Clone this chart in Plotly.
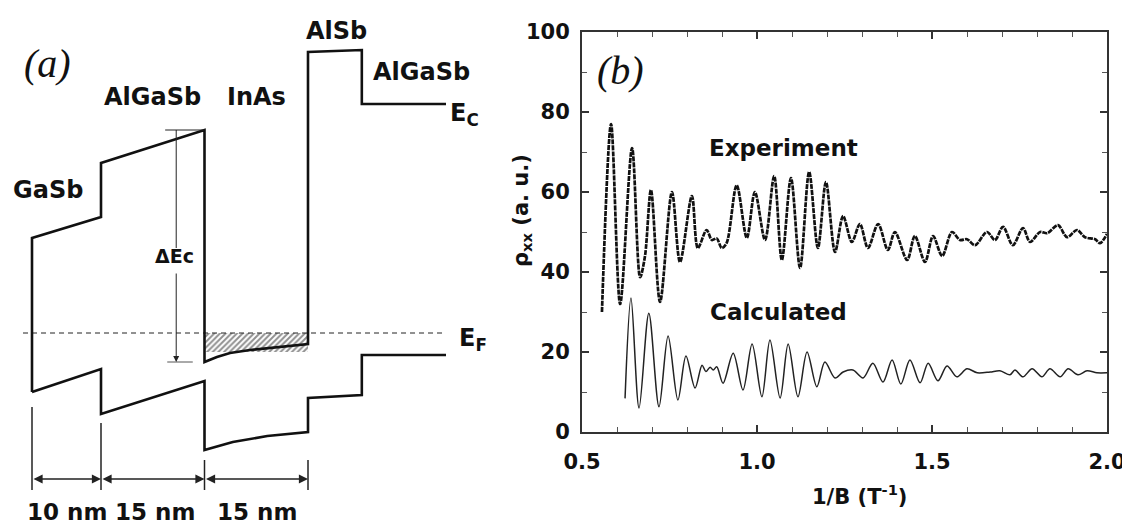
import plotly.graph_objects as go

# ---------------- Panel (b): Shubnikov-de Haas data ----------------
exp_x = [0.557, 0.583, 0.609, 0.643, 0.666, 0.680, 0.697, 0.723, 0.757, 0.780, 0.814, 0.831,
         0.856, 0.871, 0.885, 0.899, 0.913, 0.942, 0.971, 0.994, 1.023, 1.049, 1.071, 1.097,
         1.123, 1.149, 1.174, 1.197, 1.223, 1.246, 1.271, 1.294, 1.317, 1.346, 1.374, 1.394,
         1.429, 1.451, 1.480, 1.503, 1.529, 1.557, 1.580, 1.600, 1.623, 1.657, 1.680, 1.703,
         1.731, 1.760, 1.780, 1.809, 1.829, 1.860, 1.886, 1.914, 1.937, 1.966, 1.980, 2.000]
exp_y = [30, 77, 32, 71, 38.7, 44, 60.5, 32.5, 60, 42.5, 59, 46,
         50.5, 48, 48.4, 46, 47.2, 61.7, 48.5, 60, 48, 64, 43, 63.5,
         41, 65, 46, 62.5, 45, 54, 47.5, 52, 46, 52, 45.5, 50,
         43, 49, 42.5, 49, 44, 50, 48, 48.2, 46.7, 50, 48, 51.3,
         46.7, 51, 47.5, 50, 49.7, 51.7, 48.7, 50.5, 48.7, 48.2, 47.2, 49.5]

calc_x = [0.623, 0.640, 0.663, 0.691, 0.720, 0.746, 0.774, 0.797, 0.823, 0.843, 0.854, 0.866,
          0.875, 0.885, 0.903, 0.932, 0.960, 0.986, 1.014, 1.037, 1.066, 1.089, 1.117, 1.143,
          1.171, 1.194, 1.223, 1.246, 1.274, 1.303, 1.331, 1.360, 1.386, 1.411, 1.437, 1.466,
          1.489, 1.517, 1.543, 1.571, 1.600, 1.629, 1.666, 1.694, 1.723, 1.737, 1.760, 1.786,
          1.814, 1.837, 1.866, 1.889, 1.917, 1.943, 1.971, 2.000]
calc_y = [8.4, 33.5, 6, 29.7, 6.3, 24, 8, 19, 11, 16.7, 15.1, 16.2,
          15.5, 16.3, 12.2, 19.7, 10.5, 22, 8.8, 23, 8.5, 22, 8.8, 20,
          11.3, 17.5, 13.5, 15, 15.5, 13.5, 17.2, 12.5, 18, 12, 18, 12.3,
          17.2, 12.8, 16.5, 13.8, 15.8, 14.8, 15, 15.3, 14.3, 15.5, 13.8, 15.8,
          13.8, 15.8, 13.8, 15.8, 14.3, 15.3, 14.8, 14.8]

b_xticks = [0.5, 1.0, 1.5, 2.0]
b_xticktext = ["0.5", "1.0", "1.5", "2.0"]
b_yticks = [0, 20, 40, 60, 80, 100]
b_yticktext = ["0", "20", "40", "60", "80", "100"]

# ---------------- Panel (a): band diagram (position nm, energy a.u. rel. to E_F) ----------------
cb_x = [0, 0, 10, 10, 25, 25, 26.8, 28.7, 31.6, 36.4, 40, 40, 47.8, 47.8, 60]
cb_e = [-59, 95, 116, 170, 203, -29, -24, -20, -17, -14, -11, 281, 283, 229, 229]

vb_x = [0, 10, 10, 25, 25, 29.1, 34.1, 40, 40, 47.8, 47.8, 60]
vb_e = [-59, -36, -81, -48, -117, -109, -103, -99, -65, -62, -22, -22]

ef_x = [-1.3, 60]
ef_e = [0, 0]

hatch_x = [25, 40, 40, 25, 25]
hatch_e = [0, 0, -19, -19, 0]

dec_x = 20.9
dec_top_cap_x = [19.3, 25]
dec_top_e = 203
dec_bot_cap_x = [19.6, 23.3]
dec_bot_e = -29
dec_upper_seg_e = [203, 85]
dec_arrow_tail_e = 61
dec_label_e = 77

ext_x = [0, 10, 25, 40]
ext_top_e = [-74, -90, -127, -127]
ext_bot_e = -157
dim_e = -146
dim_segments = [(0, 10), (10, 25), (25, 40)]
dim_labels = ["10 nm", "15 nm", "15 nm"]
dim_label_x = [5.1, 17.8, 32.6]
dim_label_e = -179

layer_labels = ["AlSb", "AlGaSb", "AlGaSb", "InAs", "GaSb"]
layer_label_x = [44.2, 56.5, 17.4, 32.6, 2.3]
layer_label_e = [302, 261, 236, 236, 143]

# page offset of the plot div inside the browser window (default body margin)
OFF = 8
W, H = 1130, 522
PX_PER_NM = 6.9

FONT = "DejaVu Sans"
INK = "#111111"

fig = go.Figure()

# hatched electron gas
fig.add_trace(go.Scatter(x=hatch_x, y=hatch_e, xaxis="x2", yaxis="y2", mode="lines",
                         line=dict(width=0), fill="toself", fillcolor="rgba(0,0,0,0)",
                         fillpattern=dict(shape="/", fgcolor="#222", bgcolor="white",
                                          size=4, solidity=0.5),
                         hoverinfo="skip"))
# Fermi level
fig.add_trace(go.Scatter(x=ef_x, y=ef_e, xaxis="x2", yaxis="y2", mode="lines",
                         line=dict(color="#222", width=1, dash="5px,4px"), hoverinfo="skip"))
# bands
fig.add_trace(go.Scatter(x=cb_x, y=cb_e, xaxis="x2", yaxis="y2", mode="lines",
                         line=dict(color=INK, width=2.6), hoverinfo="skip"))
fig.add_trace(go.Scatter(x=vb_x, y=vb_e, xaxis="x2", yaxis="y2", mode="lines",
                         line=dict(color=INK, width=2.6), hoverinfo="skip"))
# Delta Ec marker lines
fig.add_trace(go.Scatter(x=dec_top_cap_x, y=[dec_top_e, dec_top_e], xaxis="x2", yaxis="y2",
                         mode="lines", line=dict(color="#222", width=1), hoverinfo="skip"))
fig.add_trace(go.Scatter(x=dec_bot_cap_x, y=[dec_bot_e, dec_bot_e], xaxis="x2", yaxis="y2",
                         mode="lines", line=dict(color="#555", width=1), hoverinfo="skip"))
fig.add_trace(go.Scatter(x=[dec_x, dec_x], y=dec_upper_seg_e, xaxis="x2", yaxis="y2",
                         mode="lines", line=dict(color="#222", width=1), hoverinfo="skip"))
# extension lines
for xv, te in zip(ext_x, ext_top_e):
    fig.add_trace(go.Scatter(x=[xv, xv], y=[te, ext_bot_e], xaxis="x2", yaxis="y2",
                             mode="lines", line=dict(color="#222", width=1.5), hoverinfo="skip"))

# panel (b) curves
fig.add_trace(go.Scatter(x=exp_x, y=exp_y, mode="lines",
                         line=dict(color=INK, width=2.7, shape="spline", smoothing=0.9,
                                   dash="5px,1px"), hoverinfo="skip"))
fig.add_trace(go.Scatter(x=calc_x, y=calc_y, mode="lines",
                         line=dict(color="#222", width=1.5, shape="spline", smoothing=0.9),
                         hoverinfo="skip"))

ann = []
bold = dict(family=FONT, size=24, color=INK, weight="bold")
C = dict(xanchor="center", yanchor="middle", showarrow=False)
for t, xv, ev in zip(layer_labels, layer_label_x, layer_label_e):
    ann.append(dict(text=t, x=xv, y=ev, xref="x2", yref="y2", font=bold, **C))
ann.append(dict(text="E<sub>C</sub>", x=60.3, y=219, xref="x2", yref="y2", xanchor="left",
                yanchor="middle", showarrow=False, font=bold))
ann.append(dict(text="E<sub>F</sub>", x=61.6, y=-6, xref="x2", yref="y2", xanchor="left",
                yanchor="middle", showarrow=False, font=bold))
ann.append(dict(text="(a)", x=2.2, y=270, xref="x2", yref="y2",
                font=dict(family="Liberation Serif", size=40, color=INK, style="italic"), **C))
ann.append(dict(text="ΔEc", x=20.6, y=dec_label_e, xref="x2", yref="y2",
                font=dict(family=FONT, size=19, color=INK, weight="bold"), **C))
# Delta Ec arrow
ann.append(dict(text="", x=dec_x, y=dec_bot_e, ax=dec_x, ay=dec_arrow_tail_e,
                xref="x2", yref="y2", axref="x2", ayref="y2", showarrow=True,
                arrowhead=2, arrowsize=1.2, arrowwidth=1, arrowcolor="#222"))
# dimension arrows
for (a0, a1) in dim_segments:
    ann.append(dict(text="", x=a1, y=dim_e, ax=a0, ay=dim_e,
                    xref="x2", yref="y2", axref="x2", ayref="y2", showarrow=True,
                    arrowside="end+start", arrowhead=2, startarrowhead=2,
                    arrowsize=1.3, startarrowsize=1.3, arrowwidth=1.4, arrowcolor="#222"))
for t, xv in zip(dim_labels, dim_label_x):
    ann.append(dict(text=t, x=xv, y=dim_label_e, xref="x2", yref="y2",
                    font=dict(family=FONT, size=23, color=INK, weight="bold"), **C))

# panel (b) texts
ann.append(dict(text="(b)", x=0.611, y=90.5, xref="x", yref="y",
                font=dict(family="Liberation Serif", size=40, color=INK, style="italic"), **C))
ann.append(dict(text="Experiment", x=1.077, y=71, xref="x", yref="y",
                font=dict(family=FONT, size=23, color=INK, weight="bold"), **C))
ann.append(dict(text="Calculated", x=1.06, y=30, xref="x", yref="y",
                font=dict(family=FONT, size=23, color=INK, weight="bold"), **C))
ann.append(dict(text="ρ<sub>xx</sub> (a. u.)", x=(522 - OFF) / W, y=1 - (211 - OFF) / H,
                xref="paper", yref="paper", textangle=-90,
                font=dict(family=FONT, size=21, color=INK, weight="bold"), **C))
ann.append(dict(text="1/B (T<sup>-1</sup>)", x=(859 - OFF) / W, y=1 - (495 - OFF) / H,
                xref="paper", yref="paper",
                font=dict(family=FONT, size=21, color=INK, weight="bold"), **C))

tickfont = dict(family=FONT, size=21, color=INK, weight="bold")
axis_common = dict(ticks="inside", ticklen=7, tickwidth=1.5, tickcolor="#333",
                   showline=True, linecolor="#333", linewidth=2, mirror="ticks",
                   showgrid=False, zeroline=False, tickfont=tickfont, fixedrange=True,
                   automargin=False)

fig.update_layout(
    width=W, height=H,
    margin=dict(l=0, r=0, t=0, b=0, pad=0, autoexpand=False),
    paper_bgcolor="white", plot_bgcolor="white", showlegend=False,
    xaxis=dict(domain=[(582 - OFF) / W, (1107 - OFF) / W], range=[0.5, 2.0],
               tickvals=b_xticks, ticktext=b_xticktext, anchor="y",
               minor=dict(dtick=0.1, tick0=0.5, ticks="inside", ticklen=5,
                          tickcolor="#555", tickwidth=1),
               ticklabelstandoff=10, **axis_common),
    yaxis=dict(domain=[(H - 432 + OFF) / H, (H - 32 + OFF) / H], range=[0, 100],
               tickvals=b_yticks, ticktext=b_yticktext, anchor="x",
               minor=dict(dtick=10, tick0=0, ticks="inside", ticklen=5,
                          tickcolor="#555", tickwidth=1),
               ticklabelstandoff=6, **axis_common),
    xaxis2=dict(domain=[0, 480 / W],
                range=[(OFF - 32) / PX_PER_NM, (480 + OFF - 32) / PX_PER_NM],
                visible=False, anchor="y2", fixedrange=True, automargin=False),
    yaxis2=dict(domain=[0, 1], range=[333 - (H + OFF), 333 - OFF], visible=False,
                anchor="x2", fixedrange=True, automargin=False),
    annotations=ann,
)

fig.write_html("out.html")
